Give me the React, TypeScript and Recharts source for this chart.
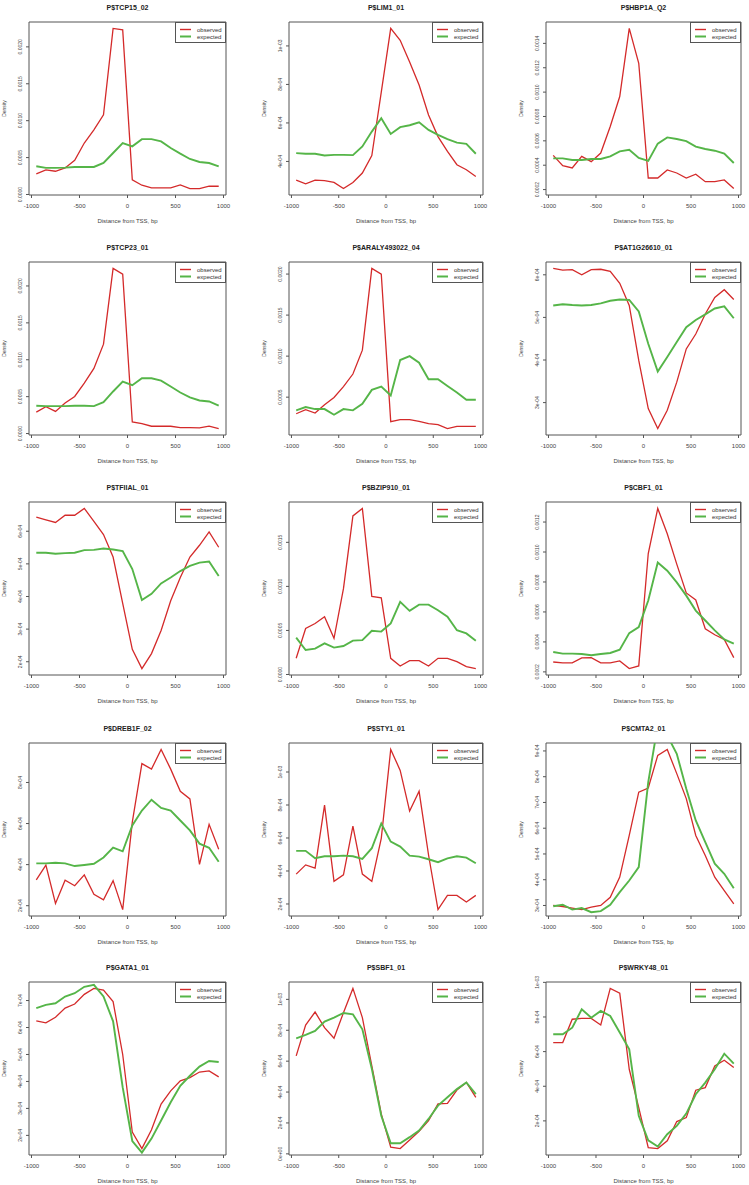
import React from 'react';
import { LineChart, Line, XAxis, YAxis, ReferenceArea, Legend } from 'recharts';

// bin centres (bp) shared by every panel
const binCenters = [-950, -850, -750, -650, -550, -450, -350, -250, -150, -50, 50, 150, 250, 350, 450, 550, 650, 750, 850, 950];
const xTicks = [-1000, -500, 0, 500, 1000];

const RED = '#d42a2a';
const GREEN = '#55b548';
const FONT = '"Liberation Sans", Arial, sans-serif';

// y tick sets
const fixed0020Ticks = [0, 0.0005, 0.001, 0.0015, 0.002];
const fixed0020Labels = ['0.0000', '0.0005', '0.0010', '0.0015', '0.0020'];
const lim1Ticks = [4e-4, 6e-4, 8e-4, 1e-3];
const lim1Labels = ['4e-04', '6e-04', '8e-04', '1e-03'];
const hbp1aTicks = [0.0002, 0.0004, 0.0006, 0.0008, 0.001, 0.0012, 0.0014];
const hbp1aLabels = ['0.0002', '0.0004', '0.0006', '0.0008', '0.0010', '0.0012', '0.0014'];
const aralyTicks = [0.0005, 0.001, 0.0015, 0.002];
const aralyLabels = ['0.0005', '0.0010', '0.0015', '0.0020'];
const at1gTicks = [3e-4, 4e-4, 5e-4, 6e-4];
const at1gLabels = ['3e-04', '4e-04', '5e-04', '6e-04'];
const tfiialTicks = [2e-4, 3e-4, 4e-4, 5e-4, 6e-4];
const tfiialLabels = ['2e-04', '3e-04', '4e-04', '5e-04', '6e-04'];
const bzipTicks = [0, 0.0005, 0.001, 0.0015];
const bzipLabels = ['0.0000', '0.0005', '0.0010', '0.0015'];
const cbf1Ticks = [0.0002, 0.0004, 0.0006, 0.0008, 0.001, 0.0012];
const cbf1Labels = ['0.0002', '0.0004', '0.0006', '0.0008', '0.0010', '0.0012'];
const dreb1fTicks = [2e-4, 4e-4, 6e-4, 8e-4];
const dreb1fLabels = ['2e-04', '4e-04', '6e-04', '8e-04'];
const sty1Ticks = [2e-4, 4e-4, 6e-4, 8e-4, 1e-3];
const sty1Labels = ['2e-04', '4e-04', '6e-04', '8e-04', '1e-03'];
const cmta2Ticks = [3e-4, 4e-4, 5e-4, 6e-4, 7e-4, 8e-4, 9e-4];
const cmta2Labels = ['3e-04', '4e-04', '5e-04', '6e-04', '7e-04', '8e-04', '9e-04'];
const gata1Ticks = [2e-4, 3e-4, 4e-4, 5e-4, 6e-4, 7e-4];
const gata1Labels = ['2e-04', '3e-04', '4e-04', '5e-04', '6e-04', '7e-04'];
const sbf1Ticks = [0, 2e-4, 4e-4, 6e-4, 8e-4, 1e-3];
const sbf1Labels = ['0e+00', '2e-04', '4e-04', '6e-04', '8e-04', '1e-03'];

// P$TCP15_02
const tcp15Observed = [0.000279, 0.000333, 0.000315, 0.00036, 0.000463, 0.000697, 0.000876, 0.00108, 0.00225, 0.00223, 0.000198, 0.000126, 0.00009, 0.00009, 0.00009, 0.00013, 0.00008, 0.00008, 0.000112, 0.000112];
const tcp15Expected = [0.000382, 0.00036, 0.00036, 0.000364, 0.000373, 0.000373, 0.000373, 0.000427, 0.000562, 0.000697, 0.000652, 0.00075, 0.00075, 0.00072, 0.00063, 0.000553, 0.000481, 0.00044, 0.000427, 0.000382];
// P$LIM1_01
const lim1Observed = [3.03e-4, 2.84e-4, 3.03e-4, 3.0e-4, 2.91e-4, 2.59e-4, 2.91e-4, 3.4e-4, 4.31e-4, 7.6e-4, 1.091e-3, 1.029e-3, 9.17e-4, 7.97e-4, 6.41e-4, 5.29e-4, 4.52e-4, 3.83e-4, 3.57e-4, 3.22e-4];
const lim1Expected = [4.43e-4, 4.4e-4, 4.4e-4, 4.31e-4, 4.34e-4, 4.34e-4, 4.33e-4, 4.78e-4, 5.55e-4, 6.24e-4, 5.43e-4, 5.78e-4, 5.88e-4, 6.03e-4, 5.64e-4, 5.38e-4, 5.16e-4, 4.98e-4, 4.91e-4, 4.4e-4];
// P$HBP1A_Q2
const hbp1aObserved = [0.000481, 0.000396, 0.000377, 0.000473, 0.000429, 0.0005, 0.000718, 0.000964, 0.001523, 0.001237, 0.000295, 0.000295, 0.000361, 0.000336, 0.000295, 0.000326, 0.000265, 0.000265, 0.000279, 0.000208];
const hbp1aExpected = [0.000456, 0.000456, 0.000443, 0.000443, 0.000451, 0.000451, 0.000473, 0.000514, 0.000527, 0.000459, 0.000435, 0.000577, 0.000628, 0.000615, 0.000598, 0.000552, 0.000533, 0.000519, 0.000495, 0.000418];
// P$TCP23_01
const tcp23Observed = [0.000291, 0.000363, 0.0003, 0.000413, 0.000502, 0.000682, 0.000883, 0.001211, 0.002238, 0.002161, 0.000157, 0.000135, 0.000099, 0.000099, 0.000099, 0.000081, 0.000081, 0.000076, 0.000099, 0.000067];
const tcp23Expected = [0.000377, 0.000372, 0.000372, 0.000372, 0.000377, 0.000377, 0.000372, 0.000426, 0.00057, 0.000704, 0.000655, 0.000749, 0.000749, 0.000717, 0.000637, 0.000556, 0.000489, 0.000448, 0.000435, 0.000377];
// P$ARALY493022_04
const aralyObserved = [0.000298, 0.000347, 0.000306, 0.000407, 0.000496, 0.000629, 0.000782, 0.001073, 0.002069, 0.002, 0.000202, 0.000226, 0.000226, 0.000206, 0.000177, 0.000165, 0.000117, 0.000145, 0.000145, 0.000145];
const aralyExpected = [0.000339, 0.000379, 0.000355, 0.000355, 0.000286, 0.000355, 0.000339, 0.000419, 0.000589, 0.000629, 0.00052, 0.000952, 0.001, 0.000919, 0.000718, 0.000718, 0.000637, 0.000556, 0.000468, 0.000468];
// P$AT1G26610_01
const at1gObserved = [6.15e-4, 6.11e-4, 6.12e-4, 6.0e-4, 6.12e-4, 6.13e-4, 6.08e-4, 5.8e-4, 5.28e-4, 3.99e-4, 2.86e-4, 2.39e-4, 2.82e-4, 3.48e-4, 4.26e-4, 4.61e-4, 5.08e-4, 5.47e-4, 5.65e-4, 5.42e-4];
const at1gExpected = [5.28e-4, 5.31e-4, 5.29e-4, 5.28e-4, 5.29e-4, 5.33e-4, 5.39e-4, 5.42e-4, 5.41e-4, 5.14e-4, 4.38e-4, 3.73e-4, 4.07e-4, 4.42e-4, 4.77e-4, 4.94e-4, 5.07e-4, 5.21e-4, 5.26e-4, 4.98e-4];
// P$TFIIAL_01
const tfiialObserved = [6.43e-4, 6.35e-4, 6.27e-4, 6.49e-4, 6.49e-4, 6.7e-4, 6.3e-4, 5.9e-4, 5.21e-4, 3.79e-4, 2.38e-4, 1.79e-4, 2.25e-4, 2.96e-4, 3.87e-4, 4.58e-4, 5.21e-4, 5.57e-4, 5.98e-4, 5.51e-4];
const tfiialExpected = [5.34e-4, 5.34e-4, 5.31e-4, 5.33e-4, 5.34e-4, 5.42e-4, 5.43e-4, 5.47e-4, 5.44e-4, 5.39e-4, 4.84e-4, 3.89e-4, 4.08e-4, 4.4e-4, 4.58e-4, 4.78e-4, 4.94e-4, 5.04e-4, 5.07e-4, 4.63e-4];
// P$BZIP910_01
const bzipObserved = [0.000184, 0.000522, 0.000579, 0.000655, 0.00041, 0.000974, 0.0018, 0.001885, 0.000887, 0.00087, 0.000184, 0.000097, 0.000158, 0.000158, 0.000097, 0.000184, 0.000184, 0.000146, 0.00009, 0.000067];
const bzipExpected = [0.000418, 0.000278, 0.000293, 0.000353, 0.000305, 0.000323, 0.000384, 0.00039, 0.000497, 0.000487, 0.00058, 0.000824, 0.000722, 0.000793, 0.000793, 0.000729, 0.000655, 0.000503, 0.000466, 0.000384];
// P$CBF1_01
const cbf1Observed = [0.000266, 0.00026, 0.00026, 0.000293, 0.000295, 0.00026, 0.00026, 0.000273, 0.000222, 0.00024, 0.00099, 0.001291, 0.001122, 0.000919, 0.000727, 0.00068, 0.000488, 0.000448, 0.000417, 0.000295];
const cbf1Expected = [0.000333, 0.000322, 0.000322, 0.000319, 0.000311, 0.000319, 0.000326, 0.000348, 0.000459, 0.000499, 0.000676, 0.00093, 0.000875, 0.000797, 0.000709, 0.000609, 0.000543, 0.000477, 0.000417, 0.000388];
// P$DREB1F_02
const dreb1fObserved = [3.26e-4, 3.98e-4, 2.11e-4, 3.24e-4, 2.97e-4, 3.5e-4, 2.56e-4, 2.29e-4, 3.22e-4, 1.81e-4, 6.07e-4, 8.92e-4, 8.65e-4, 9.61e-4, 8.65e-4, 7.57e-4, 7.2e-4, 4.01e-4, 5.96e-4, 4.75e-4];
const dreb1fExpected = [4.06e-4, 4.06e-4, 4.09e-4, 4.06e-4, 3.93e-4, 3.98e-4, 4.04e-4, 4.35e-4, 4.83e-4, 4.65e-4, 5.91e-4, 6.63e-4, 7.16e-4, 6.76e-4, 6.63e-4, 6.15e-4, 5.67e-4, 5.02e-4, 4.82e-4, 4.14e-4];
// P$STY1_01
const sty1Observed = [3.81e-4, 4.37e-4, 4.17e-4, 7.99e-4, 3.37e-4, 3.77e-4, 6.72e-4, 3.81e-4, 3.37e-4, 5.98e-4, 1.137e-3, 1.01e-3, 7.63e-4, 8.83e-4, 4.97e-4, 1.66e-4, 2.52e-4, 2.52e-4, 2.12e-4, 2.52e-4];
const sty1Expected = [5.22e-4, 5.22e-4, 4.77e-4, 4.89e-4, 4.89e-4, 4.93e-4, 4.89e-4, 4.73e-4, 5.38e-4, 6.88e-4, 5.78e-4, 5.48e-4, 4.93e-4, 4.87e-4, 4.71e-4, 4.53e-4, 4.77e-4, 4.89e-4, 4.81e-4, 4.47e-4];
// P$CMTA2_01
const cmta2Observed = [3.0e-4, 2.96e-4, 2.9e-4, 2.84e-4, 2.94e-4, 3.0e-4, 3.32e-4, 4.1e-4, 5.72e-4, 7.4e-4, 7.56e-4, 8.83e-4, 9.06e-4, 8.12e-4, 7.15e-4, 5.72e-4, 4.94e-4, 4.1e-4, 3.58e-4, 3.06e-4];
const cmta2Expected = [2.97e-4, 3.03e-4, 2.84e-4, 2.9e-4, 2.74e-4, 2.78e-4, 3.03e-4, 3.52e-4, 3.97e-4, 4.49e-4, 7.79e-4, 1.0e-3, 9.6e-4, 8.89e-4, 7.53e-4, 6.3e-4, 5.46e-4, 4.62e-4, 4.23e-4, 3.67e-4];
// P$GATA1_01
const gata1Observed = [6.25e-4, 6.17e-4, 6.38e-4, 6.72e-4, 6.87e-4, 7.23e-4, 7.45e-4, 7.39e-4, 6.96e-4, 5.0e-4, 2.12e-4, 1.51e-4, 2.21e-4, 3.16e-4, 3.65e-4, 4.02e-4, 4.14e-4, 4.35e-4, 4.39e-4, 4.17e-4];
const gata1Expected = [6.72e-4, 6.84e-4, 6.9e-4, 7.15e-4, 7.27e-4, 7.51e-4, 7.58e-4, 7.15e-4, 6.23e-4, 3.78e-4, 1.79e-4, 1.36e-4, 1.88e-4, 2.55e-4, 3.23e-4, 3.84e-4, 4.21e-4, 4.55e-4, 4.76e-4, 4.72e-4];
// P$SBF1_01
const sbf1Observed = [6.34e-4, 8.34e-4, 9.18e-4, 8.17e-4, 7.48e-4, 9.14e-4, 1.071e-3, 8.82e-4, 5.7e-4, 2.58e-4, 4.3e-5, 3.4e-5, 9.0e-5, 1.46e-4, 2.15e-4, 3.23e-4, 3.27e-4, 4.13e-4, 4.62e-4, 3.66e-4];
const sbf1Expected = [7.48e-4, 7.7e-4, 7.96e-4, 8.56e-4, 8.82e-4, 9.12e-4, 9.03e-4, 8.06e-4, 5.5e-4, 2.47e-4, 6.9e-5, 6.9e-5, 1.08e-4, 1.51e-4, 2.26e-4, 3.12e-4, 3.66e-4, 4.19e-4, 4.62e-4, 3.87e-4];
// P$WRKY48_01
const wrky48Observed = [6.52e-4, 6.52e-4, 7.87e-4, 7.92e-4, 7.92e-4, 7.54e-4, 9.65e-4, 9.37e-4, 4.98e-4, 2.77e-4, 4.6e-5, 4.0e-5, 8.5e-5, 1.96e-4, 2.19e-4, 3.77e-4, 3.92e-4, 5.17e-4, 5.5e-4, 5.08e-4];
const wrky48Expected = [7.0e-4, 7.0e-4, 7.38e-4, 8.44e-4, 7.96e-4, 8.35e-4, 8.06e-4, 7.1e-4, 6.13e-4, 2.29e-4, 8.8e-5, 5.2e-5, 1.23e-4, 1.71e-4, 2.42e-4, 3.54e-4, 4.21e-4, 4.98e-4, 5.88e-4, 5.31e-4];

const panels = [
  { title: 'P$TCP15_02', observed: tcp15Observed, expected: tcp15Expected, ticks: fixed0020Ticks, labels: fixed0020Labels },
  { title: 'P$LIM1_01', observed: lim1Observed, expected: lim1Expected, ticks: lim1Ticks, labels: lim1Labels },
  { title: 'P$HBP1A_Q2', observed: hbp1aObserved, expected: hbp1aExpected, ticks: hbp1aTicks, labels: hbp1aLabels },
  { title: 'P$TCP23_01', observed: tcp23Observed, expected: tcp23Expected, ticks: fixed0020Ticks, labels: fixed0020Labels },
  { title: 'P$ARALY493022_04', observed: aralyObserved, expected: aralyExpected, ticks: aralyTicks, labels: aralyLabels },
  { title: 'P$AT1G26610_01', observed: at1gObserved, expected: at1gExpected, ticks: at1gTicks, labels: at1gLabels },
  { title: 'P$TFIIAL_01', observed: tfiialObserved, expected: tfiialExpected, ticks: tfiialTicks, labels: tfiialLabels },
  { title: 'P$BZIP910_01', observed: bzipObserved, expected: bzipExpected, ticks: bzipTicks, labels: bzipLabels },
  { title: 'P$CBF1_01', observed: cbf1Observed, expected: cbf1Expected, ticks: cbf1Ticks, labels: cbf1Labels },
  { title: 'P$DREB1F_02', observed: dreb1fObserved, expected: dreb1fExpected, ticks: dreb1fTicks, labels: dreb1fLabels },
  { title: 'P$STY1_01', observed: sty1Observed, expected: sty1Expected, ticks: sty1Ticks, labels: sty1Labels },
  { title: 'P$CMTA2_01', observed: cmta2Observed, expected: cmta2Expected, ticks: cmta2Ticks, labels: cmta2Labels },
  { title: 'P$GATA1_01', observed: gata1Observed, expected: gata1Expected, ticks: gata1Ticks, labels: gata1Labels },
  { title: 'P$SBF1_01', observed: sbf1Observed, expected: sbf1Expected, ticks: sbf1Ticks, labels: sbf1Labels },
  { title: 'P$WRKY48_01', observed: wrky48Observed, expected: wrky48Expected, ticks: sty1Ticks, labels: sty1Labels },
];

// grid geometry (plot box positions in page px)
const colLeft = [29, 289, 546];
const colWidth = [197, 194, 195];
const rowTop = [0, 240, 480, 721, 960];
const AXIS_W = 30;
const RIGHT_PAD = 7;
const MARGIN_TOP = 22;
const CHART_H = 240;

// R-style axis range: data range stretched by 4% each side
const rRange = (vals: number[]) => {
  const lo = Math.min(...vals);
  const hi = Math.max(...vals);
  const pad = (hi - lo) * 0.04;
  return [lo - pad, hi + pad];
};

const LegendBox = () => (
  <svg width={51} height={21} style={{ display: 'block' }}>
    <rect x={0.5} y={0.5} width={50} height={20} fill="#fff" stroke="#555" strokeWidth={1} />
    <line x1={5} x2={16} y1={7.5} y2={7.5} stroke={RED} strokeWidth={1.4} />
    <line x1={5} x2={16} y1={14.5} y2={14.5} stroke={GREEN} strokeWidth={2} />
    <text x={22} y={9.6} fontSize={6} fill="#333" fontFamily={FONT}>observed</text>
    <text x={22} y={16.6} fontSize={6} fill="#333" fontFamily={FONT}>expected</text>
  </svg>
);

const Panel = ({ p, col, row }: any) => {
  const boxW = colWidth[col];
  const w = AXIS_W + boxW + RIGHT_PAD;
  const data = binCenters.map((x, i) => ({ x, observed: p.observed[i], expected: p.expected[i] }));
  const xDomain = rRange(binCenters);
  const yDomain = rRange(p.observed);

  const yTick = (props: any) => {
    const { x, y, payload } = props;
    const label = p.labels[p.ticks.indexOf(payload.value)];
    return (
      <text x={x} y={y} transform={`rotate(-90 ${x} ${y})`} textAnchor="middle" fontSize={5} fill="#444" fontFamily={FONT}>
        {label}
      </text>
    );
  };

  return (
    <div style={{ position: 'absolute', left: colLeft[col] - AXIS_W, top: rowTop[row], width: w, height: CHART_H }}>
      <div style={{ position: 'absolute', left: AXIS_W, top: 2, width: boxW, height: 12, lineHeight: '12px', textAlign: 'center', fontFamily: FONT, fontWeight: 'bold', fontSize: 7, color: '#222' }}>
        {p.title}
      </div>
      <LineChart width={w} height={CHART_H} data={data} margin={{ top: MARGIN_TOP, right: RIGHT_PAD, bottom: 5, left: 0 }}>
        <XAxis
          type="number"
          dataKey="x"
          domain={xDomain}
          ticks={xTicks}
          interval={0}
          allowDataOverflow
          axisLine={false}
          tickSize={3}
          tickMargin={6}
          tickLine={{ stroke: '#555' }}
          tick={{ fontSize: 6, fill: '#444', fontFamily: FONT }}
          height={40}
          label={{
            content: (lp: any) => {
              const vb = lp.viewBox || {};
              return (
                <text x={vb.x + vb.width / 2} y={vb.y + 28} textAnchor="middle" fontSize={6} fill="#444" fontFamily={FONT}>
                  Distance from TSS, bp
                </text>
              );
            },
          }}
        />
        <YAxis
          type="number"
          width={AXIS_W}
          domain={yDomain}
          ticks={p.ticks}
          interval={0}
          allowDataOverflow
          axisLine={false}
          tickSize={3}
          tickMargin={4}
          tickLine={{ stroke: '#555' }}
          tick={yTick}
          label={{
            content: (lp: any) => {
              const vb = lp.viewBox || {};
              const lx = vb.x + vb.width - 23.5;
              const ly = vb.y + vb.height / 2;
              return (
                <text x={lx} y={ly} transform={`rotate(-90 ${lx} ${ly})`} textAnchor="middle" fontSize={5} fill="#444" fontFamily={FONT}>
                  Density
                </text>
              );
            },
          }}
        />
        <ReferenceArea x1={xDomain[0]} x2={xDomain[1]} y1={yDomain[0]} y2={yDomain[1]} fill="none" fillOpacity={0} stroke="#555" strokeWidth={1} ifOverflow="visible" />
        <Line type="linear" dataKey="observed" stroke={RED} strokeWidth={1.3} dot={false} isAnimationActive={false} />
        <Line type="linear" dataKey="expected" stroke={GREEN} strokeWidth={1.9} dot={false} isAnimationActive={false} />
        <Legend
          layout="vertical"
          align="center"
          verticalAlign="middle"
          content={() => <LegendBox />}
          wrapperStyle={{ position: 'absolute', top: MARGIN_TOP, left: AXIS_W + boxW - 51, width: 51, height: 21, bottom: 'auto', right: 'auto' }}
        />
      </LineChart>
    </div>
  );
};

export default function App() {
  return (
    <div style={{ position: 'absolute', left: 0, top: 0, width: 749, height: 1185, overflow: 'hidden', background: '#fff' }}>
      {panels.map((p, i) => (
        <Panel key={p.title} p={p} col={i % 3} row={Math.floor(i / 3)} />
      ))}
    </div>
  );
}
